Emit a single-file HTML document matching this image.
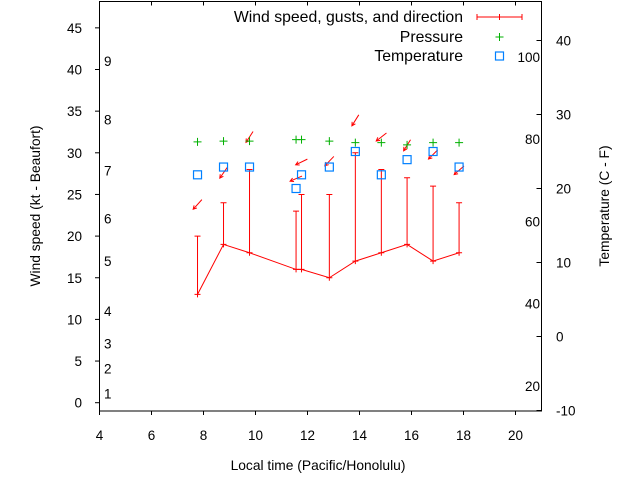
<!DOCTYPE html>
<html><head><meta charset="utf-8"><style>
html,body{margin:0;padding:0;background:#fff;}
svg{display:block;font-family:"Liberation Sans",sans-serif;}
</style></head><body>
<svg id="chart" width="640" height="480" viewBox="0 0 640 480">
<g id="axes"></g>
<g id="marks"></g>
<g id="legend">
<text x="463" y="22" text-anchor="end" font-size="15.8" fill="#000">Wind speed, gusts, and direction</text>
<g stroke="#f00" stroke-width="1"><line x1="477" y1="17" x2="522" y2="17"/><line x1="477" y1="14" x2="477" y2="20"/><line x1="522" y1="14" x2="522" y2="20"/><line x1="499.5" y1="14" x2="499.5" y2="20"/></g>
<text x="463" y="42" text-anchor="end" font-size="15.8" fill="#000">Pressure</text>
<g stroke="#00b000" stroke-width="1"><line x1="495.5" y1="37" x2="503.5" y2="37"/><line x1="499.5" y1="33" x2="499.5" y2="41"/></g>
<text x="463" y="61" text-anchor="end" font-size="15.8" fill="#000">Temperature</text>
<rect x="495.5" y="52" width="8" height="8" fill="none" stroke="#0080ff" stroke-width="1.2"/>
</g>
</svg>
<script>
// ---- data ----
const hours = [7.77, 8.77, 9.77, 11.56, 11.77, 12.84, 13.84, 14.84, 15.83, 16.83, 17.83];
const windKt = [13, 19, 18, 16, 16, 15, 17, 18, 19, 17, 18];
const gustKt = [20, 24, 28, 23, 25, 25, 30, 28, 27, 26, 24];
const windFromDeg = [42, 35, 33, 67, 64, 44, 32, 52, 32, 45, 49];
const arrowKt = [23.8, 27.6, 31.9, 26.9, 28.9, 29.0, 33.9, 31.9, 30.9, 29.8, 27.9];
const pressure = [26.3, 26.4, 26.4, 26.6, 26.6, 26.4, 26.2, 26.2, 25.9, 26.2, 26.2];
const tempC = [21.85, 22.9, 22.9, 20.0, 21.85, 22.9, 25.0, 21.85, 23.9, 25.0, 22.9];
const xTicks = [4, 6, 8, 10, 12, 14, 16, 18, 20];
const yTicks = [0, 5, 10, 15, 20, 25, 30, 35, 40, 45];
const y2Ticks = [-10, 0, 10, 20, 30, 40];
const fahrenheitLabels = [20, 40, 60, 80, 100];
const beaufortLabels = ["1", "2", "3", "4", "5", "6", "7", "8", "9"];
const beaufortKt = [1.1, 4.1, 7.1, 11, 17, 22.1, 27.9, 34, 41];

// ---- scales ----
const L = 99.5, R = 541.5, T = 1.5, B = 411;
const X = h => L + (h - 4) * (R - L) / 17;
const Y = v => 402.7 - v * 8.33;
const Y2 = c => 40.5 - (c - 40) * 7.4;
const NS = "http://www.w3.org/2000/svg";
function mk(parent, tag, attrs) {
  const e = document.createElementNS(NS, tag);
  for (const k in attrs) e.setAttribute(k, attrs[k]);
  parent.appendChild(e);
  return e;
}
const axes = document.getElementById("axes");
const marks = document.getElementById("marks");

const frame = mk(axes, "rect", {x: L, y: T, width: R - L, height: B - T, fill: "none", stroke: "#000", "stroke-width": 1});



xTicks.forEach(t => {
  const x = X(t);
  const tk = mk(axes, "path", {d: `M${x},${B}v4M${x},${T}v4`, stroke: "#000"});
  
  
  const lb = mk(axes, "text", {x: x, y: 440, "text-anchor": "middle", "font-size": 13.5});
  lb.textContent = t;
  
  
});
yTicks.forEach(t => {
  const y = Y(t);
  const tk = mk(axes, "path", {d: `M${L - 4.5},${y}h4.5`, stroke: "#000"});
  
  
  const lb = mk(axes, "text", {x: 82, y: y + 5, "text-anchor": "end", "font-size": 13.5});
  lb.textContent = t;
  
  
});
y2Ticks.forEach(t => {
  const y = Y2(t);
  const tk = mk(axes, "path", {d: `M${R - 5},${y}h5`, stroke: "#000"});
  
  
  const lb = mk(axes, "text", {x: 556, y: y + 5, "text-anchor": "start", "font-size": 13.5});
  lb.textContent = t;
  
  
});
fahrenheitLabels.forEach(f => {
  const y = Y2((f - 32) / 1.8);
  const lb = mk(axes, "text", {x: 540, y: y + 5, "text-anchor": "end", "font-size": 13.5});
  lb.textContent = f;
  
  
});
beaufortLabels.forEach((b, i) => {
  const lb = mk(axes, "text", {x: 104, y: Y(beaufortKt[i]) + 5, "text-anchor": "start", "font-size": 13.5});
  lb.textContent = b;
  
  
});
const xl = mk(axes, "text", {x: 318, y: 470, "text-anchor": "middle", "font-size": 13.8});
xl.textContent = "Local time (Pacific/Honolulu)";


const yl = mk(axes, "text", {x: 0, y: 0, "text-anchor": "middle", "font-size": 13.8, transform: "translate(40,206) rotate(-90)"});
yl.textContent = "Wind speed (kt - Beaufort)";


const y2l = mk(axes, "text", {x: 0, y: 0, "text-anchor": "middle", "font-size": 13.8, transform: "translate(609,206) rotate(-90)"});
y2l.textContent = "Temperature (C - F)";



const line = mk(marks, "polyline", {points: hours.map((h, i) => `${X(h)},${Y(windKt[i])}`).join(" "), fill: "none", stroke: "#f00", "stroke-width": 1});


hours.forEach((h, i) => {
  const x = X(h), y0 = Y(windKt[i]), y1 = Y(gustKt[i]);
  const g = mk(marks, "path", {d: `M${x},${y0}V${y1}M${x - 3},${y1}h6M${x - 3},${y0}h6M${x},${y0 - 3}v6`, stroke: "#f00", fill: "none", "stroke-width": 1});
  
  
  const toward = (windFromDeg[i] + 180) * Math.PI / 180;
  const dx = Math.sin(toward), dy = -Math.cos(toward);
  const cx = x, cy = Y(arrowKt[i]), len = 6.5;
  const tx = cx + dx * len, ty = cy + dy * len;
  const sx = cx - dx * len, sy = cy - dy * len;
  const a = Math.atan2(dy, dx), hl = 4;
  const h1x = tx - hl * Math.cos(a - 0.5), h1y = ty - hl * Math.sin(a - 0.5);
  const h2x = tx - hl * Math.cos(a + 0.5), h2y = ty - hl * Math.sin(a + 0.5);
  const ar = mk(marks, "path", {d: `M${sx},${sy}L${tx},${ty}M${h1x},${h1y}L${tx},${ty}L${h2x},${h2y}`, stroke: "#f00", fill: "none", "stroke-width": 1});
  
  
  const py = Y2(pressure[i]);
  const p = mk(marks, "path", {d: `M${x - 4},${py}h8M${x},${py - 4}v8`, stroke: "#00b000", "stroke-width": 1});
  
  
  const ty2 = Y2(tempC[i]);
  const s = mk(marks, "rect", {x: x - 4, y: ty2 - 4, width: 8, height: 8, fill: "none", stroke: "#0080ff", "stroke-width": 1.2});
  
  
});
</script>
</body></html>
